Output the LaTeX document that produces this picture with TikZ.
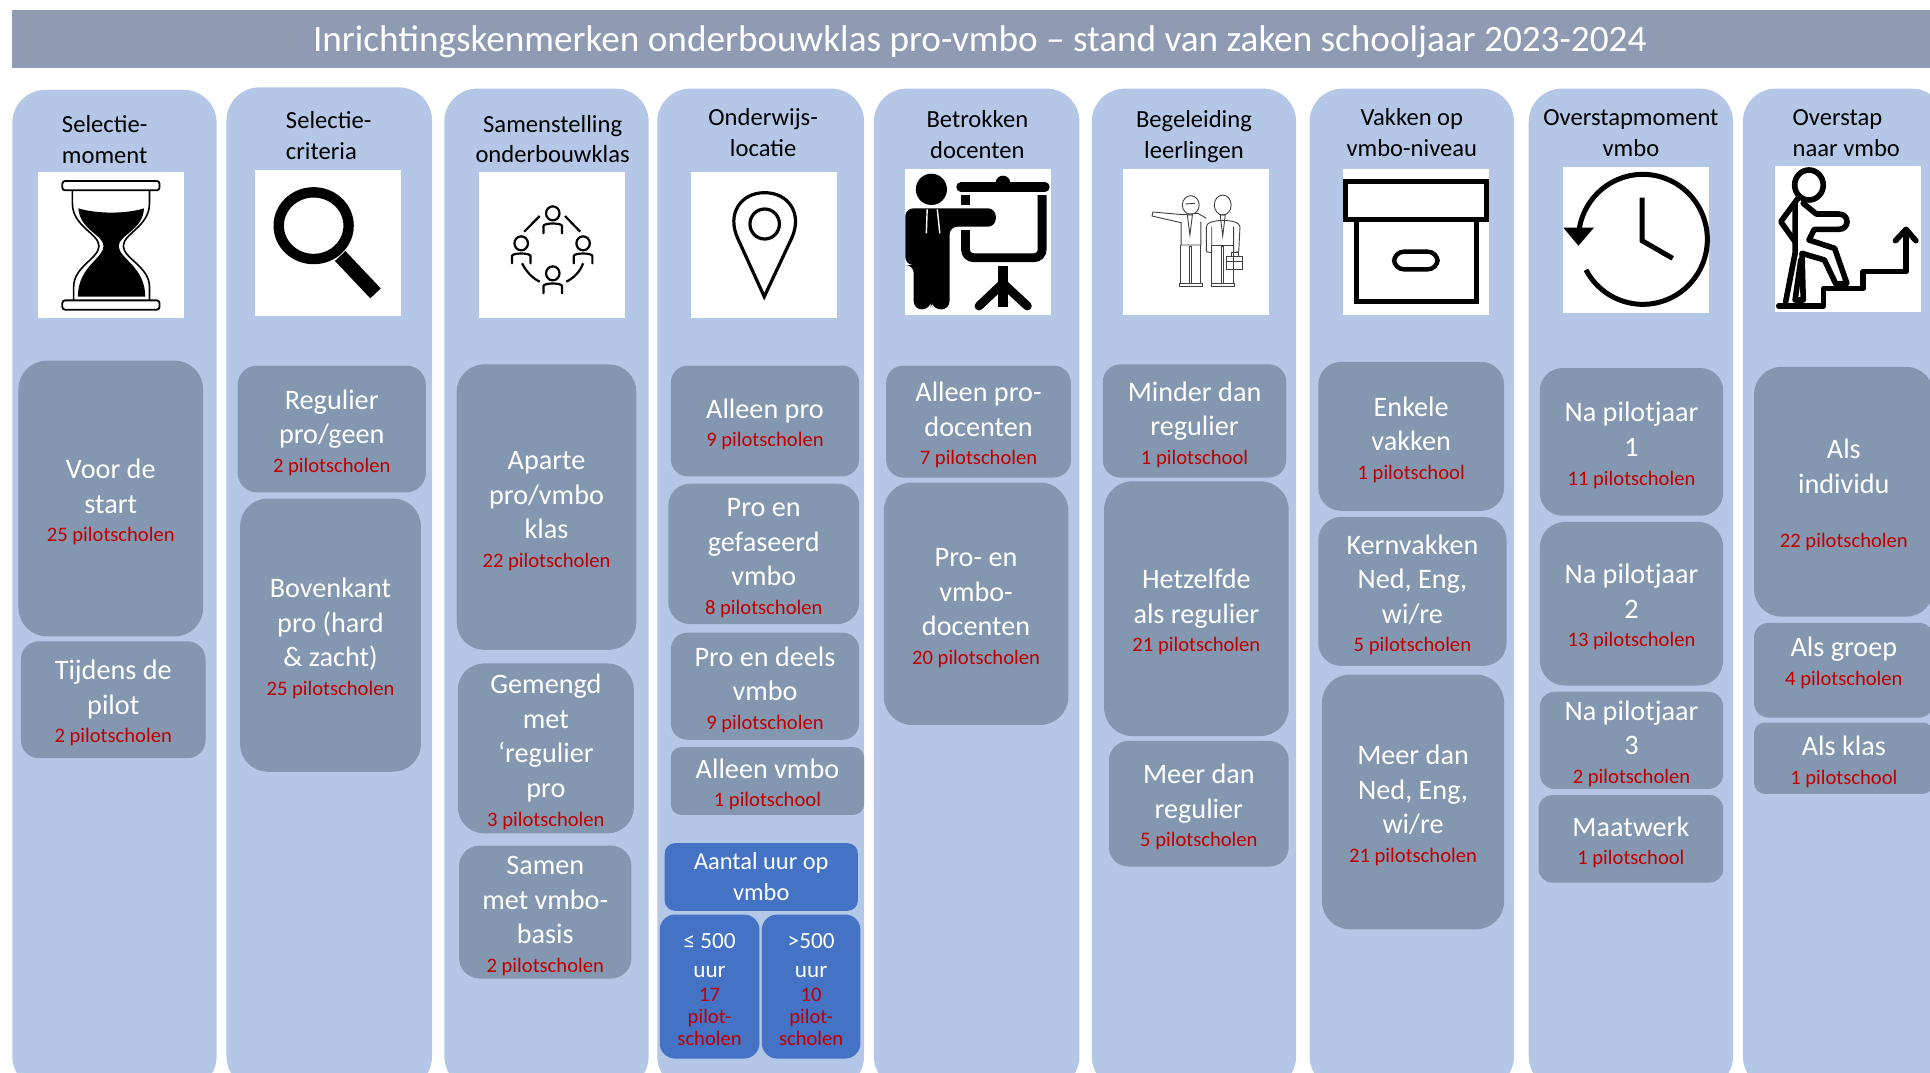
\documentclass[tikz,border=0pt]{standalone}
\usepackage{fontspec}
\setmainfont{Carlito}
\definecolor{colfill}{HTML}{B4C7E7}
\definecolor{boxfill}{HTML}{8497B0}
\definecolor{titlefill}{HTML}{8E9BB3}
\definecolor{bluefill}{HTML}{4472C4}
\definecolor{redt}{HTML}{C00000}
\newcommand{\rdt}[1]{{\color{redt}\fontsize{10.3}{12}\selectfont #1}}
\newcommand{\rd}[1]{\\[-2.9pt]\rdt{#1}}
\newcommand{\nodelead}{}
\newcommand{\bx}[6][optbox]{%
  \pgfmathsetmacro{\bw}{(#5-#3)*0.6154}%
  \pgfmathsetmacro{\bh}{(#6-#4)*0.6154}%
  \pgfmathsetmacro{\br}{min(\bw,\bh)/6.5}%
  \bxnode{#1}{#2}{#3}{#4}{#5}{#6}}
\newcommand{\bxnode}[7]{%
  \node[#1,minimum width=\bw pt,minimum height=\bh pt,rounded corners=\br pt] (#2) at ({(#3+#5)/2},{(#4+#6)/2}) {\nodelead #7};}
\newcommand{\colm}[4]{% name x1 x2 top
  \pgfmathsetmacro{\bw}{(#3-#2)*0.6154}%
  \pgfmathsetmacro{\bh}{(885-#4)*0.6154}%
  \node[colbox,minimum width=\bw pt,minimum height=\bh pt] (#1) at ({(#2+#3)/2},{(885+#4)/2}) {};}
\newcommand{\hd}[5][center]{\node[headtext,align=#1] (#2) at (#3,#4) {#5};}
\newcommand{\sq}[3]{\node[iconsq] (#1) at ({#2+59.3},{#3+59.3}) {};}
\tikzset{
  colbox/.style={fill=colfill,draw=none,inner sep=0pt,rounded corners=16.5pt},
  optbox/.style={fill=boxfill,draw=none,inner sep=0pt,text=white,align=center,font=\fontsize{14.1}{17.23}\selectfont,/utils/exec={\def\nodelead{\rule{0pt}{13.3pt}}}},
  blubox/.style={fill=bluefill,draw=none,inner sep=0pt,text=white,align=center,font=\fontsize{12.2}{15.4}\selectfont,/utils/exec={\def\nodelead{}}},
  blusmall/.style={fill=bluefill,draw=none,inner sep=0pt,text=white,align=center,font=\fontsize{11.6}{14.2}\selectfont,/utils/exec={\def\nodelead{\rule{0pt}{10.8pt}}}},
  headtext/.style={inner sep=0pt,text=black,font=\fontsize{12.3}{15.4}\selectfont},
  iconsq/.style={fill=white,draw=none,inner sep=0pt,minimum width=73pt,minimum height=73pt},
  thin1/.style={draw=black!75,line width=0.45pt,fill=none},
  zoomA/.style={x=0.2105pt,y=-0.16667pt},
  zoomC/.style={x=0.204pt,y=-0.16667pt}
}
\begin{document}
\begin{tikzpicture}[x=0.6154pt,y=-0.6154pt]
\useasboundingbox (0,0) rectangle (1568,871.7);
\clip (0,0) rectangle (1568,871.7);
% title
\node[fill=titlefill,inner sep=0pt,minimum width=967.3pt,minimum height=29pt,text=white,font=\fontsize{18.6}{20}\selectfont] (title) at (796,31.5) {\rule{0pt}{16.3pt}Inrichtingskenmerken onderbouwklas pro-vmbo – stand van zaken schooljaar 2023-2024};
% columns
\colm{c1}{10}{176}{73}
\colm{c2}{184}{351}{71}
\colm{c3}{361}{527}{72}
\colm{c4}{534}{702}{72}
\colm{c5}{710}{877}{72}
\colm{c6}{887}{1053}{72}
\colm{c7}{1064}{1230}{72}
\colm{c8}{1242}{1408}{72}
\colm{c9}{1416}{1580}{72}
% headers
\hd{h1}{85}{113.5}{Selectie-\\moment}
\hd[left]{h2}{267}{110}{Selectie-\\criteria}
\hd{h3}{449}{113}{Samenstelling\\onderbouwklas}
\hd{h4}{620}{108}{Onderwijs-\\locatie}
\hd{h5}{794}{109}{Betrokken\\docenten}
\hd{h6}{970}{111}{Begeleiding\\leerlingen}
\hd{h7}{1147}{108}{Vakken op\\vmbo-niveau}
\hd{h8}{1325}{108}{Overstapmoment\\vmbo}
\hd[left]{h9}{1500}{108}{Overstap\\naar vmbo}
% icon squares
\sq{s1}{30.5}{140}
\sq{s2}{207}{138}
\sq{s3}{389.5}{140}
\sq{s4}{561.5}{140}
\sq{s5}{735}{137.5}
\sq{s6}{912.5}{137.5}
\sq{s7}{1091}{137}
\sq{s8}{1270}{135.5}
\sq{s9}{1442}{134.5}
% --- hourglass
\begin{scope}[zoomA]
  \draw[black,line width=0.8pt,fill=none] (172,571) -- (172,610) .. controls (172,680) and (235,700) .. (235,738) .. controls (235,775) and (175,800) .. (175,860) -- (175,901);
  \draw[black,line width=0.8pt,fill=none] (355,571) -- (355,610) .. controls (355,680) and (293,700) .. (293,738) .. controls (293,775) and (355,800) .. (355,860) -- (355,901);
  \fill[black] (186,625) .. controls (230,642) and (300,642) .. (342,625) .. controls (340,690) and (282,705) .. (282,738) .. controls (282,775) and (345,800) .. (345,890) -- (185,890) .. controls (185,800) and (246,775) .. (246,738) .. controls (246,705) and (190,690) .. (186,625) -- cycle;
  \draw[black,line width=0.9pt,fill=white,rounded corners=1.4pt] (148,543) rectangle (379,571);
  \draw[black,line width=0.9pt,fill=white,rounded corners=1.4pt] (148,901) rectangle (379,929);
  % magnifier
  \draw[black,line width=5.2pt] (745,677) ellipse [x radius=83,y radius=100];
  \draw[black,line width=7.2pt] (808,768) -- (892,880);
  % people circle
  \foreach \px/\py in {1313/660,1238/750,1385/750,1313/840}{
    \draw[black,line width=1.1pt] (\px,\py-20) ellipse [x radius=16,y radius=21];
    \draw[black,line width=1.1pt,line cap=round] (\px-22,\py+40) -- (\px-22,\py+18) .. controls (\px-22,\py+8) and (\px+22,\py+8) .. (\px+22,\py+18) -- (\px+22,\py+40);
  }
  \draw[black,line width=1.1pt] (1282,648) -- (1245,695);
  \draw[black,line width=1.1pt] (1342,648) -- (1378,695);
  \draw[black,line width=1.1pt] (1240,790) .. controls (1250,815) and (1265,835) .. (1282,845);
  \draw[black,line width=1.1pt] (1385,790) .. controls (1378,815) and (1362,835) .. (1345,845);
\end{scope}
% --- pin, teacher, two men
\begin{scope}[shift={(520,56.87)},zoomA]
  \draw[black,line width=1.6pt,line join=miter] (295,680) -- (232,505) .. controls (205,430) and (240,368) .. (296,368) .. controls (352,368) and (387,430) .. (360,505) -- cycle;
  \draw[black,line width=1.6pt] (296,462) ellipse [x radius=35,y radius=45];
  % teacher
  \fill[black] (692,358) ellipse [x radius=37,y radius=47];
  \fill[black,rounded corners=4pt] (630,585) -- (630,415) -- (845,415) -- (845,470) -- (735,470) -- (735,718) -- (695,718) -- (692,690) -- (689,718) -- (650,718) -- (650,585) -- cycle;
  \draw[white,line width=0.7pt] (682,418) -- (680,490);
  \draw[white,line width=0.7pt] (706,418) -- (712,490);
  \fill[black] (862,337) ellipse [x radius=17,y radius=20];
  \draw[black,line width=4.6pt,line cap=round] (762,351) -- (962,351);
  \draw[black,line width=4.4pt] (773,375) -- (773,405);
  \draw[black,line width=4.4pt,rounded corners=4pt] (773,480) -- (773,563) -- (955,563) -- (955,375);
  \draw[black,line width=5pt] (862,588) -- (862,710);
  \draw[black,line width=4.4pt,line cap=round] (862,640) -- (805,708);
  \draw[black,line width=4.4pt,line cap=round] (862,640) -- (920,708);
  % two men
  \draw[thin1] (1308,405) ellipse [x radius=20,y radius=28];
  \draw[thin1] (1384,405) ellipse [x radius=20,y radius=30];
  \draw[thin1] (1295,402) -- (1318,400);
  \draw[thin1] (1218,426) -- (1290,434) -- (1325,430) -- (1345,445);
  \draw[thin1] (1218,426) -- (1216,438) -- (1285,458) -- (1285,525) -- (1332,525) -- (1332,455);
  \draw[thin1] (1283,525) -- (1283,640) -- (1305,640) -- (1305,530) -- (1310,530) -- (1310,640) -- (1332,640) -- (1332,525);
  \draw[thin1] (1280,640) rectangle (1335,650);
  \draw[thin1] (1300,435) -- (1306,495) -- (1312,435) -- cycle;
  \draw[thin1] (1355,525) -- (1410,525);
  \draw[thin1] (1345,545) -- (1345,470) .. controls (1345,445) and (1425,445) .. (1425,470) -- (1422,545);
  \draw[thin1] (1345,545) -- (1358,548) -- (1358,470);
  \draw[thin1] (1410,470) -- (1410,548) -- (1422,545);
  \draw[thin1] (1358,525) -- (1358,640) -- (1380,640) -- (1380,530) -- (1386,530) -- (1386,640) -- (1410,640) -- (1410,548);
  \draw[thin1] (1356,640) rectangle (1412,650);
  \draw[thin1] (1378,435) -- (1384,498) -- (1390,435) -- cycle;
  \draw[thin1] (1393,558) rectangle (1432,598);
  \draw[thin1] (1393,575) -- (1432,575);
  \draw[thin1] (1404,558) -- (1404,548) -- (1421,548) -- (1421,558);
\end{scope}
% --- box, clock, walker
\begin{scope}[shift={(1048,56.87)},zoomC]
  \draw[black,line width=2.5pt] (137,335) rectangle (482,449);
  \draw[black,line width=2.5pt] (163,449) -- (163,693) -- (456,693) -- (456,449);
  \draw[black,line width=2.2pt,rounded corners=5pt] (255,545) rectangle (362,598);
  % clock
  \draw[black,line width=2.5pt] plot[domain=188:512,samples=70,smooth] ({865+158*cos(\x)},{508+195*sin(\x)});
  \fill[black] (670,473) -- (745,473) -- (707,527) -- cycle;
  \draw[black,line width=2.5pt] (863,383) -- (863,512) -- (938,565);
  % walker
  \draw[black,line width=2.8pt] (1272,345) ellipse [x radius=35,y radius=45];
  \begin{scope}[black,line width=2.8pt,line cap=round,line join=round]
    \draw (1245,385) -- (1203,455) -- (1238,515);
    \draw (1238,400) -- (1238,550) -- (1215,695);
    \draw (1258,400) -- (1290,432) -- (1345,432) .. controls (1372,432) and (1372,478) .. (1345,478) -- (1285,478) -- (1272,510) -- (1335,535) -- (1365,640) -- (1338,642) -- (1310,570) -- (1255,550) -- (1258,690) -- (1238,690) -- (1252,570);
    \draw (1198,708) -- (1308,708) -- (1308,655) -- (1405,655) -- (1405,605) -- (1510,605) -- (1510,480);
    \draw (1484,512) -- (1510,478) -- (1534,512);
  \end{scope}
\end{scope}
% --- option boxes
\bx{b11}{15}{293}{165}{517}{Voor de\\start\rd{25 pilotscholen}}
\bx{b12}{17}{521}{167}{616}{Tijdens de\\pilot\rd{2 pilotscholen}}
\bx{b21}{193}{297}{346}{400}{Regulier\\pro/geen\rd{2 pilotscholen}}
\bx{b22}{195}{405}{342}{627}{Bovenkant\\pro (hard\\\& zacht)\rd{25 pilotscholen}}
\bx{b31}{371}{296}{517}{528}{Aparte\\pro/vmbo\\klas\rd{22 pilotscholen}}
\bx{b32}{372}{539}{515}{677}{Gemengd\\met\\‘regulier\\pro\rd{3 pilotscholen}}
\bx{b33}{373}{687}{513}{795}{Samen\\met vmbo-\\basis\rd{2 pilotscholen}}
\bx{b41}{545}{297}{698}{387}{Alleen pro\rd{9 pilotscholen}}
\bx{b42}{543}{393}{698}{507}{Pro en\\gefaseerd\\vmbo\rd{8 pilotscholen}}
\bx{b43}{545}{514}{698}{601}{Pro en deels\\vmbo\rd{9 pilotscholen}}
\bx{b44}{545}{607}{702}{662}{Alleen vmbo\rd{1 pilotschool}}
\bx[blubox]{b45}{540}{685}{697}{740}{Aantal uur op\\vmbo}
\bx[blusmall]{b46}{536}{743}{617}{860}{≤ 500\\uur\\[-1.9pt]\rdt{17}\\[-3.2pt]\rdt{pilot-}\\[-3.2pt]\rdt{scholen}}
\bx[blusmall]{b47}{619}{743}{699}{860}{>500\\uur\\[-1.9pt]\rdt{10}\\[-3.2pt]\rdt{pilot-}\\[-3.2pt]\rdt{scholen}}
\bx{b51}{720}{297}{870}{388}{Alleen pro-\\docenten\rd{7 pilotscholen}}
\bx{b52}{718}{392}{868}{589}{Pro- en\\vmbo-\\docenten\rd{20 pilotscholen}}
\bx{b61}{896}{296}{1045}{388}{Minder dan\\regulier\rd{1 pilotschool}}
\bx{b62}{897}{391}{1047}{598}{Hetzelfde\\als regulier\rd{21 pilotscholen}}
\bx{b63}{901}{602}{1047}{704}{Meer dan\\regulier\rd{5 pilotscholen}}
\bx{b71}{1071}{294}{1222}{415}{Enkele\\vakken\rd{1 pilotschool}}
\bx{b72}{1071}{420}{1224}{541}{Kernvakken\\Ned, Eng,\\wi/re\rd{5 pilotscholen}}
\bx{b73}{1074}{548}{1222}{755}{Meer dan\\Ned, Eng,\\wi/re\rd{21 pilotscholen}}
\bx{b81}{1251}{299}{1400}{419}{Na pilotjaar\\1\rd{11 pilotscholen}}
\bx{b82}{1251}{424}{1400}{557}{Na pilotjaar\\2\rd{13 pilotscholen}}
\bx{b83}{1251}{562}{1400}{641}{Na pilotjaar\\3\rd{2 pilotscholen}}
\bx{b84}{1250}{646}{1400}{717}{Maatwerk\rd{1 pilotschool}}
\bx{b91}{1425}{298}{1571}{501}{Als\\individu\\[10pt]\rdt{22 pilotscholen}}
\bx{b92}{1425}{506}{1571}{583}{Als groep\rd{4 pilotscholen\rule[-12.5pt]{0pt}{1pt}}}
\bx{b93}{1425}{587}{1571}{645}{Als klas\rd{1 pilotschool}}
\end{tikzpicture}
\end{document}
